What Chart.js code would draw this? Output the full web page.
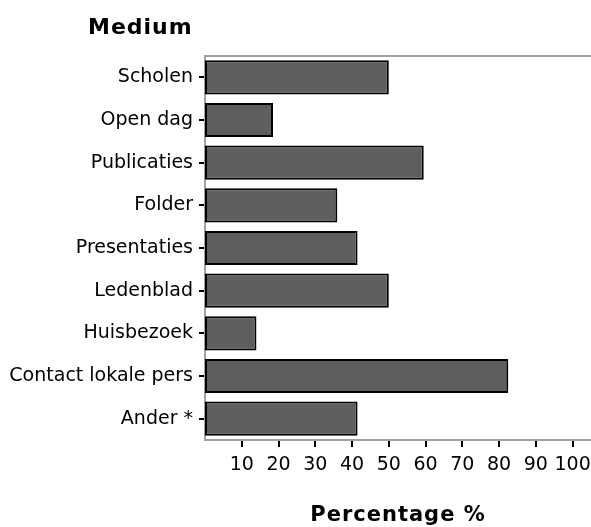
<!DOCTYPE html>
<html>
<head>
<meta charset="utf-8">
<script src="https://cdn.jsdelivr.net/npm/chart.js@4.4.1/dist/chart.umd.min.js"></script>
<style>
  html, body { margin: 0; padding: 0; background: #fff; }
  #wrap { width: 591px; height: 527px; position: relative; }
</style>
</head>
<body>
<div id="wrap"><canvas id="mediumChart"></canvas></div>
<script>
const categories = ['Scholen', 'Open dag', 'Publicaties', 'Folder', 'Presentaties', 'Ledenblad', 'Huisbezoek', 'Contact lokale pers', 'Ander *']
const percentages = [50, 18.5, 59.5, 36, 41.5, 50, 14, 82.5, 41.5]
const xTicks = [10, 20, 30, 40, 50, 60, 70, 80, 90, 100]
const chartTitle = 'Medium'
const xTitle = 'Percentage %'

const FONT = "'DejaVu Sans', Arial, sans-serif"

// titles are drawn by hand so they can get a bit of letter spacing
const titlesPlugin = {
  id: 'titles',
  afterDraw(chart) {
    const ctx = chart.ctx
    const area = chart.chartArea
    ctx.save()
    // thin top border over the plot
    ctx.strokeStyle = '#a0a0a0'
    ctx.lineWidth = 2
    ctx.beginPath()
    ctx.moveTo(area.left, area.top)
    ctx.lineTo(area.right, area.top)
    ctx.stroke()

    ctx.fillStyle = '#000'
    ctx.letterSpacing = '1px'
    ctx.font = 'bold 22px ' + FONT
    ctx.textBaseline = 'alphabetic'
    ctx.textAlign = 'left'
    ctx.fillText(chartTitle, 88, 34)
    ctx.font = 'bold 21px ' + FONT
    ctx.textAlign = 'center'
    ctx.fillText(xTitle, (area.left + area.right) / 2, 521)
    ctx.restore()
  }
}

new Chart(document.getElementById('mediumChart').getContext('2d'), {
  type: 'bar',
  data: {
    labels: categories,
    datasets: [{
      label: 'Percentage',
      data: percentages,
      backgroundColor: '#5e5e5e',
      borderColor: '#000',
      borderWidth: 2,
      borderSkipped: false,
      barPercentage: 1,
      categoryPercentage: 0.8
    }]
  },
  options: {
    indexAxis: 'y',
    responsive: true,
    maintainAspectRatio: false,
    animation: false,
    layout: { padding: { top: 56, left: 0, right: 0, bottom: 0 } },
    plugins: {
      legend: { display: false },
      tooltip: { enabled: false }
    },
    scales: {
      x: {
        min: 0,
        max: 105,
        afterBuildTicks: (scale) => { scale.ticks = xTicks.map(v => ({ value: v })) },
        afterFit: (scale) => {
          scale.height = 87
          scale.paddingLeft = 0
          scale.paddingRight = 0
        },
        grid: { drawOnChartArea: false, drawTicks: true, tickLength: 7, tickColor: '#000', lineWidth: 2 },
        border: { color: '#a0a0a0', width: 2 },
        ticks: { color: '#000', font: { family: FONT, size: 19 }, padding: 7, maxRotation: 0, autoSkip: false }
      },
      y: {
        afterFit: (scale) => { scale.width = 205 },
        grid: { drawOnChartArea: false, offset: false, tickLength: 6, tickColor: '#000', lineWidth: 2 },
        border: { color: '#a0a0a0', width: 2 },
        ticks: { color: '#000', font: { family: FONT, size: 19 }, padding: 6, autoSkip: false }
      }
    }
  },
  plugins: [titlesPlugin]
})
</script>
</body>
</html>
